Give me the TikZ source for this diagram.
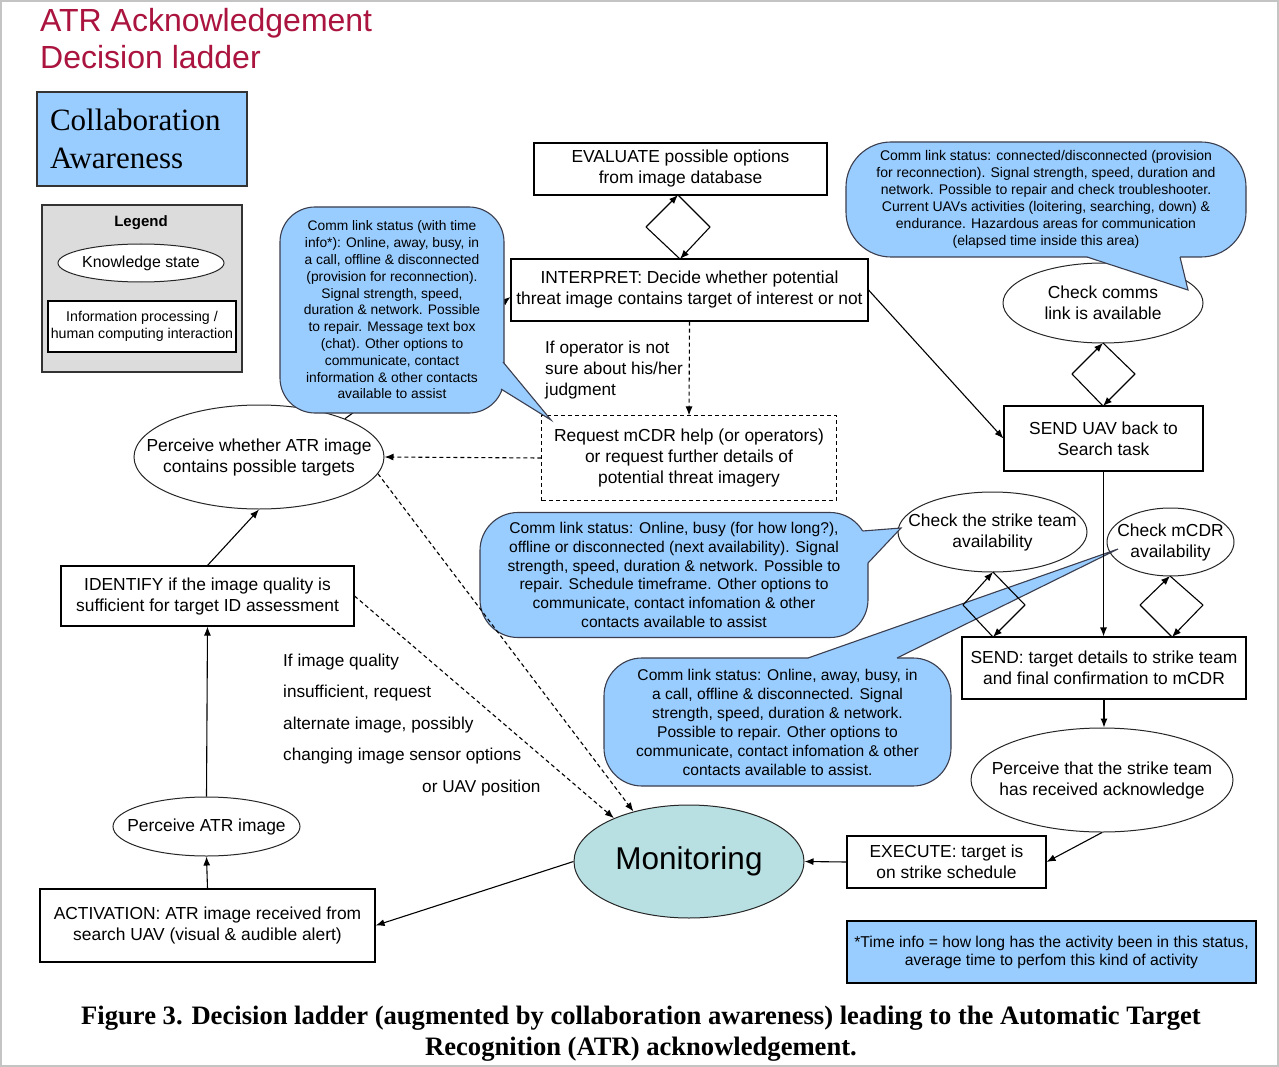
\documentclass[tikz,border=0pt]{standalone}
\usepackage{fontspec}
\setmainfont{Liberation Sans}
\newfontfamily\serifface{Liberation Serif}
\usetikzlibrary{arrows.meta,shapes.geometric,calc}
\definecolor{bubblefill}{RGB}{153,204,255}
\definecolor{bubbleline}{RGB}{58,62,78}
\definecolor{monfill}{RGB}{184,224,226}
\definecolor{legendfill}{RGB}{220,220,220}
\definecolor{titlered}{RGB}{170,20,62}
\definecolor{framegray}{RGB}{196,196,196}
\newcommand\fsz[2]{\fontsize{#1}{#2}\selectfont}

\begin{document}
\begin{tikzpicture}[x=1pt,y=-1pt,
  procbox/.style={draw=black, line width=1.1pt, fill=white, inner sep=0pt, align=center, font=\fsz{17.4}{21}},
  stateell/.style={ellipse, draw=black!85, line width=1pt, fill=white, inner sep=0pt},
  elltext/.style={align=center, inner sep=0pt, font=\fsz{17.4}{21}},
  bubble/.style={draw=bubbleline, line width=1.1pt, fill=bubblefill, inner sep=0pt, align=center},
  conn/.style={line width=1.1pt, -{Latex[length=9pt,width=7pt]}},
  dconn/.style={conn, dash pattern=on 4pt off 3pt},
  plainline/.style={line width=1.1pt},
  tailfill/.style={fill=bubblefill},
  tailedge/.style={draw=bubbleline, line width=1.1pt, line join=miter},
]
\useasboundingbox (0,0) rectangle (1279,1067);
\fill[white] (0,0) rectangle (1279,1067);
\draw[framegray, line width=2pt] (1,1) rectangle (1278,1066);

% title and side panels
\node[anchor=west, align=left, text=titlered, font=\fsz{32}{37}, inner sep=0pt] (title) at (40,39) {ATR Acknowledgement\\Decision ladder};
\node[draw=black!80, line width=1.1pt, fill=bubblefill, minimum height=94pt, text width=184pt, inner xsep=13pt, inner ysep=0pt, align=left, font=\serifface\fsz{31}{38}] (collab) at (142,139) {Collaboration\\Awareness};

\node[draw=black!80, line width=1.1pt, fill=legendfill, minimum width=200pt, minimum height=167pt, inner sep=0pt] (legend) at (142,288.5) {};
\node[font=\bfseries\fsz{15}{18}, inner sep=0pt] (legendtitle) at (141,223) {Legend};
\node[stateell, minimum width=166pt, minimum height=38pt, label={[elltext, font=\fsz{15.9}{19}]center:Knowledge state}] (legstate) at (141,263) {};
\node[procbox, minimum width=188pt, minimum height=51pt, font=\fsz{14.2}{17}] (legproc) at (142,326.5) {Information processing /\\human computing interaction};

% link that runs behind the left bubble
\node[stateell, minimum width=250pt, minimum height=104pt, label={[elltext]center:{Perceive whether ATR image\\contains possible targets}}] (pw) at (259,457) {};
\node[procbox, minimum width=357pt, minimum height=62pt] (interp) at (689.5,290) {INTERPRET: Decide whether potential\\threat image contains target of interest or not};
\draw[conn] (pw.24) -- ([yshift=-7pt]interp.west);

% ladder nodes
\node[procbox, minimum width=293pt, minimum height=52pt] (eval) at (680.5,169) {EVALUATE possible options\\from image database};
\node[procbox, minimum width=294pt, minimum height=84pt, draw=none] (req) at (689,458) {Request mCDR help (or operators)\\or request further details of\\potential threat imagery};
\draw[line width=1.1pt, dash pattern=on 4pt off 3pt] (req.south west) rectangle (req.north east);
\node[procbox, minimum width=293pt, minimum height=60pt] (ident) at (207.5,596) {IDENTIFY if the image quality is\\sufficient for target ID assessment};
\node[stateell, minimum width=187pt, minimum height=59pt, label={[elltext]center:Perceive ATR image}] (patr) at (206.5,826.5) {};
\node[procbox, minimum width=335pt, minimum height=73pt] (act) at (207.5,925.5) {ACTIVATION: ATR image received from\\search UAV (visual \& audible alert)};
\node[stateell, fill=monfill, minimum width=230pt, minimum height=113pt, label={[elltext, font=\fsz{31.5}{36}]center:Monitoring}] (mon) at (689,861.5) {};
\node[procbox, minimum width=199pt, minimum height=52pt] (exec) at (946.5,862) {EXECUTE: target is\\on strike schedule};
\node[stateell, minimum width=262pt, minimum height=104pt, label={[elltext]center:{Perceive that the strike team\\has received acknowledge}}] (ps) at (1102,780) {};
\node[procbox, minimum width=284pt, minimum height=62pt] (sendt) at (1104,668) {SEND: target details to strike team\\and final confirmation to mCDR};
\node[stateell, minimum width=189pt, minimum height=80pt, label={[elltext]center:{Check the strike team\\availability}}] (cstrike) at (992.5,532) {};
\node[stateell, minimum width=127pt, minimum height=68pt, label={[elltext]center:{Check mCDR\\availability}}] (cmcdr) at (1170.5,542) {};
\node[procbox, minimum width=199pt, minimum height=65pt] (senduav) at (1103.5,438.5) {SEND UAV back to\\Search task};
\node[stateell, minimum width=200pt, minimum height=80pt, label={[elltext]center:{Check comms\\link is available}}] (ccomms) at (1103,303) {};
\node[procbox, fill=bubblefill, minimum width=409pt, minimum height=62pt, font=\fsz{15.7}{18}] (foot) at (1051.5,952) {*Time info = how long has the activity been in this status,\\average time to perfom this kind of activity};

% annotations
\node[anchor=west, align=left, inner sep=0pt, font=\fsz{17.2}{21}] (unsure) at (545,370) {If operator is not\\sure about his/her\\judgment};
\node[anchor=west, align=left, inner sep=0pt, font=\fsz{17.2}{31.5}] (quality) at (283,725) {If image quality\\insufficient, request\\alternate image, possibly\\changing image sensor options\\\hspace*{139pt}or UAV position};

% comm-link bubbles
\node[bubble, rounded corners=35pt, minimum width=224pt, minimum height=206pt, font=\fsz{13.8}{16.8}] (bubA) at (392,310) {Comm link status (with time\\info*): Online, away, busy, in\\a call, offline \& disconnected\\(provision for reconnection).\\Signal strength, speed,\\duration \& network. Possible\\to repair. Message text box\\(chat). Other options to\\communicate, contact\\information \& other contacts\\available to assist};
\coordinate (a1) at (503,362); \coordinate (a2) at (501,389); \coordinate (atip) at (551,420);
\fill[tailfill] (a1) -- (atip) -- (a2) -- ++(-8,0) -- ($(a1)+(-8,0)$) -- cycle;
\draw[tailedge] (a1) -- (atip) -- (a2);

\node[bubble, rounded corners=38pt, minimum width=388pt, minimum height=125pt, font=\fsz{15.6}{18.8}] (bubB) at (674,575) {Comm link status: Online, busy (for how long?),\\offline or disconnected (next availability). Signal\\strength, speed, duration \& network. Possible to\\repair. Schedule timeframe. Other options to\\communicate, contact infomation \& other\\contacts available to assist};
\coordinate (b1) at (862.6,531); \coordinate (b2) at (868,563); \coordinate (btip) at (901,528);
\fill[tailfill] (b1) -- (btip) -- (b2) -- ++(-8,0) -- ($(b1)+(-8,0)$) -- cycle;
\draw[tailedge] (b1) -- (btip) -- (b2);

\node[bubble, rounded corners=38pt, minimum width=347pt, minimum height=128pt, font=\fsz{15.6}{19}] (bubC) at (777.5,722) {Comm link status: Online, away, busy, in\\a call, offline \& disconnected. Signal\\strength, speed, duration \& network.\\Possible to repair. Other options to\\communicate, contact infomation \& other\\contacts available to assist.};
\coordinate (c1) at (808,658); \coordinate (c2) at (897,658); \coordinate (ctip) at (1118,549);
\fill[tailfill] (c1) -- (ctip) -- (c2) -- ++(0,8) -- ($(c1)+(0,8)$) -- cycle;
\draw[tailedge] (c1) -- (ctip) -- (c2);

\node[bubble, rounded corners=45pt, minimum width=400pt, minimum height=115pt, font=\fsz{14}{17}] (bubD) at (1046,199.5) {Comm link status: connected/disconnected (provision\\for reconnection). Signal strength, speed, duration and\\network. Possible to repair and check troubleshooter.\\Current UAVs activities (loitering, searching, down) \&\\endurance. Hazardous areas for communication\\(elapsed time inside this area)};
\coordinate (d1) at (1087,257); \coordinate (d2) at (1180,257); \coordinate (dtip) at (1188,290);
\fill[tailfill] (d1) -- (dtip) -- (d2) -- ++(0,-8) -- ($(d1)+(0,-8)$) -- cycle;
\draw[tailedge] (d1) -- (dtip) -- (d2);

% connectors
\draw[conn] (act.north) -- (patr.south);
\draw[conn] (patr.north) -- (ident.south);
\draw[conn] (ident.north) -- (pw.south);
\draw[dconn] (interp.south) -- (req.north);
\draw[dconn] (req.west) -- (pw.east);
\draw[dconn] (ident.east) -- (mon.150);
\draw[dconn] (pw.-8) -- (mon.138);
\draw[conn] (mon.west) -- (act.east);
\draw[conn] (interp.east) -- (senduav.west);
\draw[conn] (senduav.south) -- (senduav.south |- sendt.north);
\draw[conn] (sendt.south) -- (sendt.south |- ps.north);
\draw[conn] (ps.south) -- (exec.east);
\draw[conn] (exec.west) -- (mon.east);

% decision shunts
\coordinate (eT) at (678,195); \coordinate (eR) at (710,227); \coordinate (eB) at (680,259); \coordinate (eL) at (646,227);
\draw[conn] (eL) -- (eT); \draw[plainline] (eT) -- (eR); \draw[conn] (eR) -- (eB); \draw[plainline] (eB) -- (eL);
\coordinate (kT) at (1103,343); \coordinate (kR) at (1135,374); \coordinate (kB) at (1103,406); \coordinate (kL) at (1072,374);
\draw[conn] (kL) -- (kT); \draw[plainline] (kT) -- (kR); \draw[conn] (kR) -- (kB); \draw[plainline] (kB) -- (kL);
\coordinate (sT) at (993,572); \coordinate (sR) at (1025,605); \coordinate (sB) at (993,637); \coordinate (sL) at (963,605);
\draw[conn] (sL) -- (sT); \draw[plainline] (sT) -- (sR); \draw[conn] (sR) -- (sB); \draw[plainline] (sB) -- (sL);
\coordinate (mT) at (1170,576); \coordinate (mR) at (1203,605); \coordinate (mB) at (1172,637); \coordinate (mL) at (1140,605);
\draw[conn] (mL) -- (mT); \draw[plainline] (mT) -- (mR); \draw[conn] (mR) -- (mB); \draw[plainline] (mB) -- (mL);

% caption
\node[font=\serifface\bfseries\fsz{26.6}{31}, align=center, inner sep=0pt] (caption) at (641,1033.5) {Figure 3. Decision ladder (augmented by collaboration awareness) leading to the Automatic Target\\Recognition (ATR) acknowledgement.};
\end{tikzpicture}
\end{document}
